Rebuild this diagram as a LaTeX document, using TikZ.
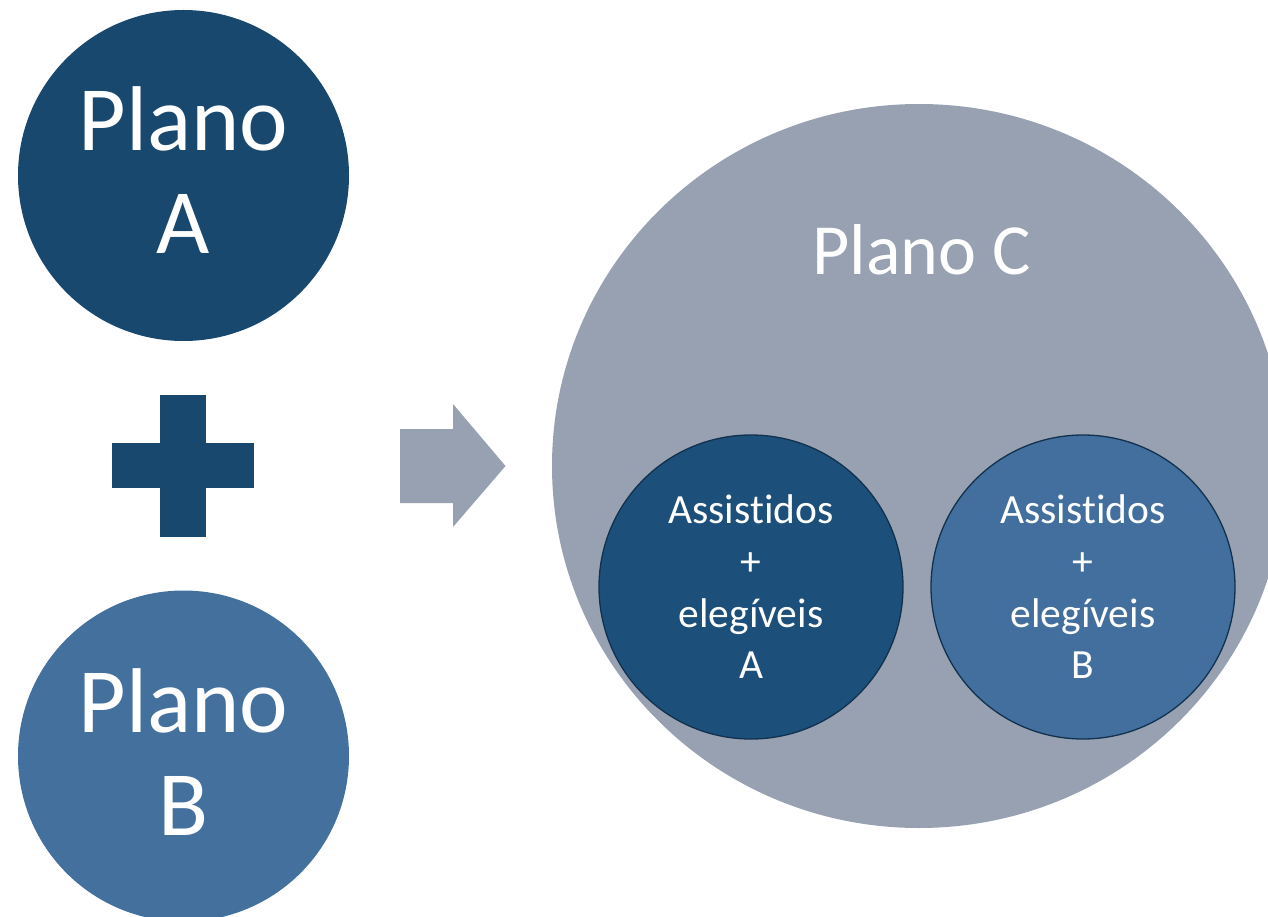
\documentclass[tikz,border=0pt]{standalone}
\usepackage{fontspec}
\usetikzlibrary{shapes.geometric}
\setmainfont{Carlito}[Ligatures={NoCommon}]
\definecolor{darkA}{HTML}{19486E}
\definecolor{midB}{HTML}{44709E}
\definecolor{grayC}{HTML}{97A1B1}
\definecolor{smallA}{HTML}{1C4F79}
\definecolor{smallB}{HTML}{426F9E}
\definecolor{rimc}{HTML}{12314F}
\tikzset{
  bigtxt/.style={text=white, align=center, inner sep=0pt, font=\fontsize{92}{103}\selectfont},
  ctxt/.style={text=white, align=center, inner sep=0pt, font=\fontsize{72}{84}\selectfont},
  smalltxt/.style={text=white, align=center, inner sep=0pt, font=\fontsize{41.5}{51.7}\selectfont},
  disc/.style={circle, inner sep=0pt, minimum size=#1},
}
\begin{document}
\begin{tikzpicture}[x=1pt,y=-1pt]
\useasboundingbox (0,0) rectangle (1268,917);
\clip (0,0) rectangle (1268,917);
% Plano A
\node[disc=331pt, fill=darkA] (pa) at (183.5,175.5) {};
\node[bigtxt] (pat) at ([yshift=5pt]pa.center) {Plano\\A};
% plus sign
\fill[darkA] (112,443) rectangle (254,488);
\fill[darkA] (160,395) rectangle (206,537);
% Plano B
\node[disc=331pt, fill=midB] (pb) at (183.5,756) {};
\node[bigtxt] (pbt) at ([yshift=4pt]pb.center) {Plano\\B};
% arrow
\fill[grayC] (400,429) -- (453,429) -- (453,404) -- (505.5,466) -- (453,527) -- (453,503) -- (400,503) -- cycle;
% Plano C
\node[ellipse, fill=grayC, minimum width=734pt, minimum height=724pt, inner sep=0pt] (pc) at (919,466) {};
\node[ctxt, anchor=base] (pct) at (922,275) {Plano C};
% small circles
\node[disc=304pt, fill=smallA, draw=rimc, line width=1.3pt] (sa) at (751,587) {};
\node[smalltxt] (sat) at (sa.center) {Assistidos\\+\\elegíveis\\A};
\node[disc=304pt, fill=smallB, draw=rimc, line width=1.3pt] (sb) at (1083,587) {};
\node[smalltxt] (sbt) at (sb.center) {Assistidos\\+\\elegíveis\\B};
\end{tikzpicture}
\end{document}
